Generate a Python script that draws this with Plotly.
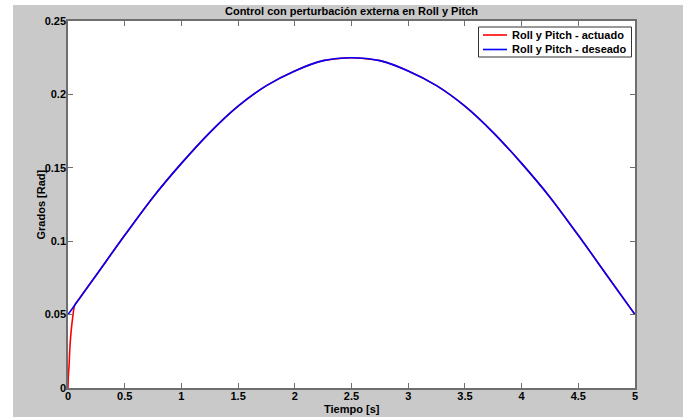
import plotly.graph_objects as go

# Desired trajectory
t_des = [0.0, 0.25, 0.5, 0.75, 1.0, 1.25, 1.5, 1.75, 2.0, 2.25, 2.5,
         2.75, 3.0, 3.25, 3.5, 3.75, 4.0, 4.25, 4.5, 4.75, 5.0]
y_des = [0.050, 0.077, 0.104, 0.130, 0.153, 0.174, 0.192, 0.206, 0.216, 0.223, 0.225,
         0.223, 0.216, 0.206, 0.192, 0.174, 0.153, 0.130, 0.104, 0.077, 0.050]

# Actuated response: fast initial transient, then follows the desired one
t_act = [0.0, 0.003, 0.009, 0.015, 0.021, 0.035, 0.059, 0.1, 0.25, 0.5, 0.75, 1.0, 1.25,
         1.5, 1.75, 2.0, 2.25, 2.5, 2.75, 3.0, 3.25, 3.5, 3.75, 4.0, 4.25, 4.5, 4.75, 5.0]
y_act = [0.0, 0.008, 0.0146, 0.025, 0.0325, 0.044, 0.0565, 0.061, 0.077, 0.104, 0.130, 0.153, 0.174,
         0.192, 0.206, 0.216, 0.223, 0.225, 0.223, 0.216, 0.206, 0.192, 0.174, 0.153, 0.130, 0.104, 0.077, 0.050]

series_names = ["Roll y Pitch - actuado", "Roll y Pitch - deseado"]
series_colors = ["#ff0000", "#0000ff"]

x_ticks = [0, 0.5, 1, 1.5, 2, 2.5, 3, 3.5, 4, 4.5, 5]
x_tick_text = ["0", "0.5", "1", "1.5", "2", "2.5", "3", "3.5", "4", "4.5", "5"]
y_ticks = [0, 0.05, 0.1, 0.15, 0.2, 0.25]
y_tick_text = ["0", "0.05", "0.1", "0.15", "0.2", "0.25"]

FONT = "Liberation Sans, Arial, sans-serif"
AXC = "#6e6e6e"
BG = "#c9c9c9"
TXT = dict(family=FONT, size=11, color="black", weight="bold")

fig = go.Figure()
fig.add_trace(go.Scatter(x=t_act, y=y_act, mode="lines", name=series_names[0],
                         line=dict(color=series_colors[0], width=1.6, shape="spline", smoothing=0.6)))
fig.add_trace(go.Scatter(x=t_des, y=y_des, mode="lines", name=series_names[1],
                         line=dict(color=series_colors[1], width=1.6, shape="spline", smoothing=1.0)))

W, H = 683, 417
L, R, T, B = 68, 48, 21, 29
pw, ph = W - L - R, H - T - B

def px_x(px):
    return (px - L) / pw

def px_y(py):
    return (H - B - py) / ph

shapes = [
    dict(type="rect", xref="paper", yref="paper", layer="below",
         x0=px_x(-5), x1=px_x(13), y0=px_y(430), y1=px_y(-10),
         fillcolor="white", line=dict(width=0)),
    dict(type="rect", xref="paper", yref="paper", layer="below",
         x0=px_x(-5), x1=px_x(690), y0=px_y(5), y1=px_y(-10),
         fillcolor="white", line=dict(width=0)),
    # legend box
    dict(type="rect", xref="paper", yref="paper", layer="above",
         x0=px_x(478.5), x1=px_x(631.5), y0=px_y(57), y1=px_y(27),
         fillcolor="white", line=dict(color="#333333", width=1)),
]
annotations = []
row_y = [35, 49.5]
for name, col, ry in zip(series_names, series_colors, row_y):
    shapes.append(dict(type="line", xref="paper", yref="paper", layer="above",
                       x0=px_x(483), x1=px_x(507), y0=px_y(ry), y1=px_y(ry),
                       line=dict(color=col, width=1.6)))
    annotations.append(dict(text=name, xref="paper", yref="paper",
                            x=px_x(510), y=px_y(ry), xanchor="left", yanchor="middle",
                            showarrow=False, font=TXT))

annotations.append(dict(text="Tiempo [s]", xref="paper", yref="paper",
                        x=px_x(351.5), y=px_y(408.5), xanchor="center", yanchor="middle",
                        showarrow=False, font=TXT))
annotations.append(dict(text="Grados [Rad]", xref="paper", yref="paper",
                        x=px_x(40), y=px_y(204.5), xanchor="center", yanchor="middle",
                        textangle=-90, showarrow=False, font=TXT))

fig.update_layout(
    width=W, height=H,
    margin=dict(l=L, r=R, t=T, b=B, pad=0),
    paper_bgcolor=BG,
    plot_bgcolor="white",
    font=TXT,
    title=dict(text="Control con perturbación externa en Roll y Pitch",
               x=px_x(351.5), xref="paper", xanchor="center",
               y=1 - 11 / H, yref="container", yanchor="middle", font=TXT),
    showlegend=False,
    shapes=shapes,
    annotations=annotations,
)

fig.update_xaxes(
    range=[0, 5], tickmode="array", tickvals=x_ticks, ticktext=x_tick_text,
    ticks="inside", ticklen=5, tickwidth=1, tickcolor=AXC,
    showline=True, linecolor=AXC, linewidth=1.5, mirror="ticks",
    showgrid=False, zeroline=False, automargin=False,
    tickfont=TXT, ticklabelstandoff=-3,
)
fig.update_yaxes(
    range=[0, 0.25], tickmode="array", tickvals=y_ticks, ticktext=y_tick_text,
    ticks="inside", ticklen=5, tickwidth=1, tickcolor=AXC,
    showline=True, linecolor=AXC, linewidth=1.5, mirror="ticks",
    showgrid=False, zeroline=False, automargin=False,
    tickfont=TXT, ticklabelstandoff=-2,
)

fig.write_html("out.html")
